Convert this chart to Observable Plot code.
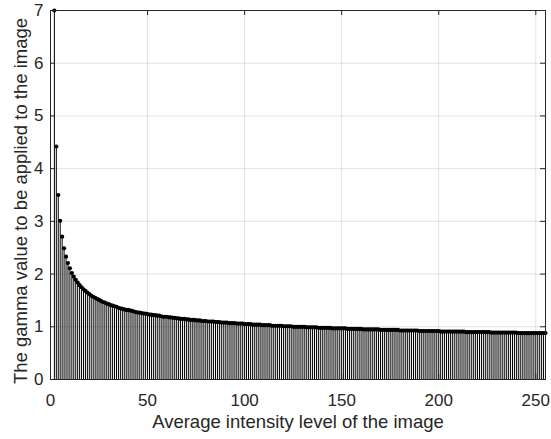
<!DOCTYPE html>
<html>
<head>
<meta charset="utf-8">
<script src="https://cdn.jsdelivr.net/npm/d3@7"></script>
<script src="https://cdn.jsdelivr.net/npm/@observablehq/plot@0.6"></script>
<style>
  html, body { margin: 0; padding: 0; background: #fff; }
  #chart svg { display: block; }
</style>
</head>
<body>
<div id="chart"></div>
<script>
// Average intensity levels (2..255) and the gamma value applied at each level.
const levels = d3.range(2, 256);
const gammaValues = [
  7.00, 4.42, 3.50, 3.01, 2.71, 2.49, 2.33, 2.21, 2.11, 2.02,
  1.95, 1.89, 1.84, 1.79, 1.75, 1.71, 1.68, 1.65, 1.62, 1.59,
  1.57, 1.55, 1.53, 1.51, 1.49, 1.47, 1.46, 1.44, 1.43, 1.41,
  1.40, 1.39, 1.38, 1.36, 1.35, 1.34, 1.33, 1.32, 1.32, 1.31,
  1.30, 1.29, 1.28, 1.27, 1.27, 1.26, 1.25, 1.25, 1.24, 1.23,
  1.23, 1.22, 1.22, 1.21, 1.21, 1.20, 1.19, 1.19, 1.19, 1.18,
  1.18, 1.17, 1.17, 1.16, 1.16, 1.15, 1.15, 1.15, 1.14, 1.14,
  1.13, 1.13, 1.13, 1.12, 1.12, 1.12, 1.11, 1.11, 1.11, 1.10,
  1.10, 1.10, 1.10, 1.09, 1.09, 1.09, 1.08, 1.08, 1.08, 1.08,
  1.07, 1.07, 1.07, 1.07, 1.06, 1.06, 1.06, 1.06, 1.05, 1.05,
  1.05, 1.05, 1.04, 1.04, 1.04, 1.04, 1.04, 1.03, 1.03, 1.03,
  1.03, 1.03, 1.02, 1.02, 1.02, 1.02, 1.02, 1.02, 1.01, 1.01,
  1.01, 1.01, 1.01, 1.00, 1.00, 1.00, 1.00, 1.00, 1.00, 1.00,
  0.99, 0.99, 0.99, 0.99, 0.99, 0.99, 0.98, 0.98, 0.98, 0.98,
  0.98, 0.98, 0.98, 0.97, 0.97, 0.97, 0.97, 0.97, 0.97, 0.97,
  0.97, 0.96, 0.96, 0.96, 0.96, 0.96, 0.96, 0.96, 0.96, 0.95,
  0.95, 0.95, 0.95, 0.95, 0.95, 0.95, 0.95, 0.95, 0.94, 0.94,
  0.94, 0.94, 0.94, 0.94, 0.94, 0.94, 0.94, 0.94, 0.93, 0.93,
  0.93, 0.93, 0.93, 0.93, 0.93, 0.93, 0.93, 0.93, 0.92, 0.92,
  0.92, 0.92, 0.92, 0.92, 0.92, 0.92, 0.92, 0.92, 0.92, 0.91,
  0.91, 0.91, 0.91, 0.91, 0.91, 0.91, 0.91, 0.91, 0.91, 0.91,
  0.91, 0.91, 0.90, 0.90, 0.90, 0.90, 0.90, 0.90, 0.90, 0.90,
  0.90, 0.90, 0.90, 0.90, 0.90, 0.89, 0.89, 0.89, 0.89, 0.89,
  0.89, 0.89, 0.89, 0.89, 0.89, 0.89, 0.89, 0.89, 0.89, 0.88,
  0.88, 0.88, 0.88, 0.88, 0.88, 0.88, 0.88, 0.88, 0.88, 0.88,
  0.88, 0.88, 0.88, 0.88
];
const xTicks = [0, 50, 100, 150, 200, 250];
const yTicks = [0, 1, 2, 3, 4, 5, 6, 7];
const xLabel = "Average intensity level of the image";
const yLabel = "The gamma value to be applied to the image";

const data = levels.map((level, i) => ({level, gamma: gammaValues[i]}));

const W = 551, H = 439;
const mL = 50, mR = 6, mT = 10, mB = 60;
const xDomain = [0, 255], yDomain = [0, 7];
const axisColor = "#262626";

// Inward tick length (5px) expressed in data units for each axis.
const tickPx = 5;
const tickX = tickPx * (xDomain[1] - xDomain[0]) / (W - mL - mR);
const tickY = tickPx * (yDomain[1] - yDomain[0]) / (H - mT - mB);

const chart = Plot.plot({
  width: W,
  height: H,
  marginLeft: mL,
  marginRight: mR,
  marginTop: mT,
  marginBottom: mB,
  style: {fontFamily: "'Liberation Sans', Arial, sans-serif", color: axisColor, background: "#fff"},
  x: {domain: xDomain, ticks: xTicks},
  y: {domain: yDomain, ticks: yTicks},
  marks: [
    Plot.gridX(xTicks, {stroke: axisColor, strokeOpacity: 0.13}),
    Plot.gridY(yTicks, {stroke: axisColor, strokeOpacity: 0.13}),
    // stems
    Plot.ruleX(data, {x: "level", y1: 0, y2: "gamma", stroke: "#000", strokeWidth: 1}),
    // stem heads
    Plot.dot(data, {x: "level", y: "gamma", r: 2.1, fill: "#000", stroke: "none"}),
    Plot.frame({stroke: axisColor, strokeWidth: 1}),
    // inward ticks on all four sides
    Plot.ruleX(xTicks, {x: d => d, y1: yDomain[0], y2: yDomain[0] + tickY, stroke: axisColor}),
    Plot.ruleX(xTicks, {x: d => d, y1: yDomain[1], y2: yDomain[1] - tickY, stroke: axisColor}),
    Plot.ruleY(yTicks, {y: d => d, x1: xDomain[0], x2: xDomain[0] + tickX, stroke: axisColor}),
    Plot.ruleY(yTicks, {y: d => d, x1: xDomain[1], x2: xDomain[1] - tickX, stroke: axisColor}),
    Plot.axisX(xTicks, {tickSize: 0, tickPadding: 14, fontSize: 17, label: null, fill: axisColor, tickFormat: d => String(d)}),
    Plot.axisY(yTicks, {tickSize: 0, tickPadding: 7, fontSize: 17, label: null, fill: axisColor, tickFormat: d => String(d)}),
    Plot.text([xLabel], {frameAnchor: "bottom", dy: 48, fontSize: 18.5, fill: axisColor, text: d => d}),
    Plot.text([yLabel], {frameAnchor: "left", dx: -29, dy: 6, rotate: -90, textAnchor: "middle", fontSize: 18.5, fill: axisColor, text: d => d})
  ]
});

document.getElementById("chart").appendChild(chart);
</script>
</body>
</html>
